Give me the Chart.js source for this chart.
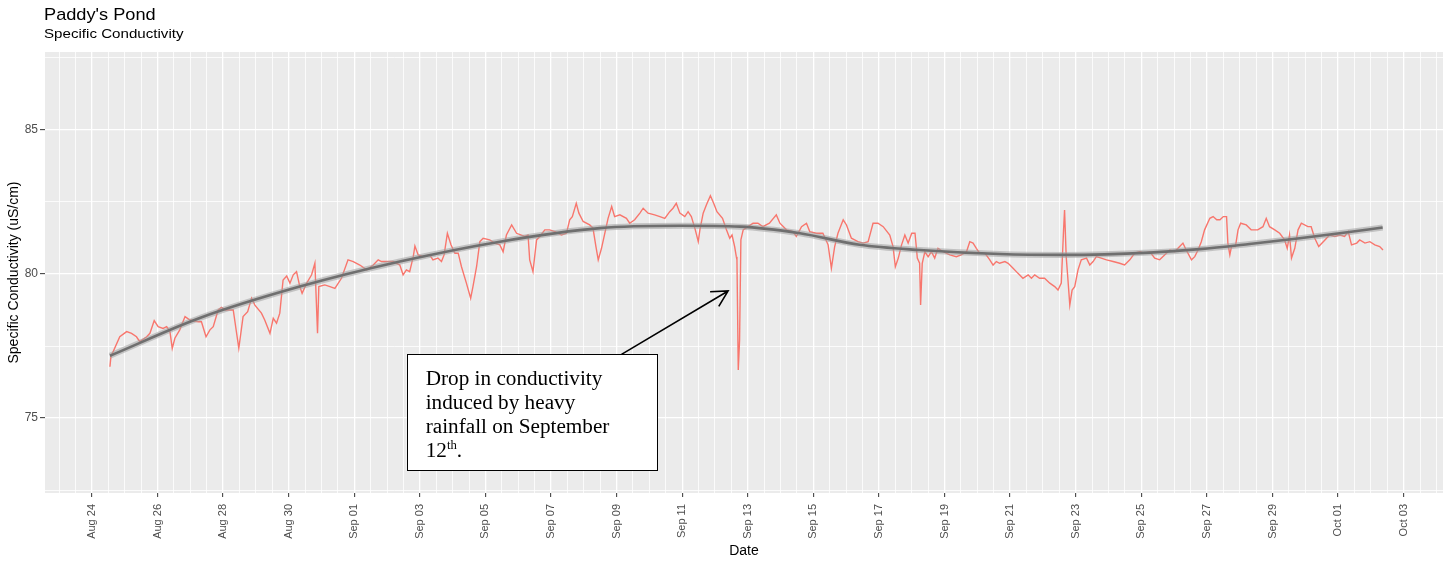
<!DOCTYPE html>
<html>
<head>
<meta charset="utf-8">
<title>Paddy's Pond</title>
<script src="https://cdn.jsdelivr.net/npm/chart.js@4.4.1/dist/chart.umd.min.js"></script>
<style>
  html, body { margin: 0; padding: 0; background: #fff; }
  #wrap { width: 1448px; height: 561px; }
</style>
</head>
<body>
<div id="wrap"><canvas id="chart" width="1448" height="561"></canvas></div>
<script>
// time is in days since Aug 24 00:00
const times = [
  0.55, 0.58, 0.85, 1.06, 1.21, 1.36, 1.46, 1.67, 1.77, 1.90, 2.02, 2.17, 2.28, 2.38, 2.45, 2.53, 2.68, 2.84, 2.99, 3.24,
  3.34, 3.48, 3.60, 3.70, 3.85, 3.95, 4.08, 4.31, 4.48, 4.61, 4.75, 4.87, 4.97, 5.17, 5.27, 5.43, 5.53, 5.63, 5.73, 5.83,
  5.94, 6.04, 6.14, 6.24, 6.34, 6.41, 6.55, 6.70, 6.80, 6.88, 6.92, 7.10, 7.26, 7.41, 7.61, 7.81, 7.97, 8.17, 8.38, 8.58,
  8.73, 8.83, 8.93, 9.19, 9.39, 9.49, 9.59, 9.69, 9.80, 9.85, 9.95, 10.10, 10.30, 10.40, 10.55, 10.66, 10.74, 10.84, 10.95, 11.07,
  11.17, 11.27, 11.42, 11.55, 11.62, 11.73, 11.83, 11.93, 12.13, 12.28, 12.44, 12.54, 12.64, 12.80, 12.95, 13.20, 13.30, 13.35, 13.45, 13.56,
  13.66, 13.81, 13.96, 14.12, 14.32, 14.47, 14.57, 14.65, 14.77, 14.85, 14.98, 15.18, 15.28, 15.37, 15.44, 15.54, 15.64, 15.74, 15.85, 15.94,
  16.10, 16.30, 16.40, 16.55, 16.71, 16.81, 16.96, 17.16, 17.32, 17.47, 17.62, 17.72, 17.82, 17.93, 18.08, 18.18, 18.28, 18.40, 18.49, 18.54,
  18.64, 18.74, 18.86, 18.96, 19.06, 19.23, 19.35, 19.45, 19.52, 19.60, 19.65, 19.67, 19.71, 19.75, 19.79, 19.86, 20.01, 20.16, 20.31, 20.46,
  20.66, 20.87, 20.98, 21.18, 21.38, 21.48, 21.64, 21.79, 21.89, 22.09, 22.29, 22.45, 22.55, 22.65, 22.75, 22.91, 23.01, 23.16, 23.36, 23.52,
  23.67, 23.82, 23.97, 24.13, 24.33, 24.43, 24.50, 24.59, 24.69, 24.79, 24.89, 25.00, 25.10, 25.17, 25.24, 25.27, 25.32, 25.40, 25.50, 25.60,
  25.70, 25.80, 25.96, 26.16, 26.36, 26.51, 26.67, 26.77, 26.87, 26.97, 27.07, 27.23, 27.38, 27.48, 27.58, 27.68, 27.84, 27.94, 28.09, 28.24,
  28.39, 28.55, 28.65, 28.75, 28.90, 29.05, 29.21, 29.36, 29.46, 29.56, 29.63, 29.66, 29.71, 29.76, 29.82, 29.89, 29.97, 30.07, 30.17, 30.33,
  30.43, 30.53, 30.63, 30.78, 30.94, 31.14, 31.34, 31.49, 31.65, 31.80, 31.95, 32.10, 32.26, 32.41, 32.56, 32.71, 32.87, 33.02, 33.17, 33.27,
  33.37, 33.53, 33.63, 33.73, 33.83, 33.93, 34.09, 34.19, 34.30, 34.40, 34.50, 34.60, 34.64, 34.70, 34.75, 34.87, 34.95, 35.03, 35.20, 35.35,
  35.55, 35.71, 35.81, 35.91, 36.07, 36.22, 36.37, 36.45, 36.52, 36.58, 36.68, 36.78, 36.88, 37.08, 37.18, 37.29, 37.41, 37.60, 37.74, 37.90,
  38.05, 38.20, 38.31, 38.41, 38.57, 38.66, 38.82, 38.97, 39.12, 39.27, 39.37
];
const conductivity = [
  76.78, 77.13, 77.82, 78.00, 77.94, 77.82, 77.65, 77.82, 77.94, 78.38, 78.17, 78.11, 78.17, 78.00, 77.42, 77.77, 78.06, 78.52, 78.40, 78.34,
  78.34, 77.82, 78.06, 78.17, 78.75, 78.84, 78.75, 78.75, 77.42, 78.52, 78.69, 79.16, 78.92, 78.64, 78.40, 77.94, 78.46, 78.29, 78.64, 79.79,
  79.93, 79.68, 79.97, 80.08, 79.56, 79.33, 79.68, 79.97, 80.37, 77.94, 79.56, 79.62, 79.56, 79.50, 79.85, 80.49, 80.43, 80.31, 80.14, 80.31,
  80.49, 80.43, 80.43, 80.43, 80.31, 79.97, 80.14, 80.08, 80.60, 80.97, 80.66, 80.60, 80.66, 80.49, 80.55, 80.43, 80.66, 81.41, 81.01, 80.72,
  80.72, 80.25, 79.68, 79.16, 79.56, 80.25, 81.12, 81.24, 81.18, 81.07, 81.01, 80.77, 81.35, 81.70, 81.41, 81.30, 81.35, 80.49, 80.08, 81.18,
  81.30, 81.53, 81.53, 81.47, 81.35, 81.41, 81.88, 81.99, 82.45, 82.11, 81.82, 81.70, 81.59, 80.95, 80.49, 80.89, 81.41, 81.93, 82.34, 81.99,
  82.05, 81.93, 81.76, 81.88, 82.11, 82.28, 82.11, 82.05, 81.99, 81.93, 82.16, 82.28, 82.45, 82.11, 81.99, 82.16, 81.99, 81.53, 81.12, 81.53,
  82.11, 82.40, 82.71, 82.45, 82.16, 81.93, 81.53, 81.24, 81.35, 80.95, 80.60, 80.49, 76.67, 77.70, 81.18, 81.53, 81.64, 81.76, 81.76, 81.64,
  81.76, 82.05, 81.76, 81.53, 81.47, 81.30, 81.64, 81.76, 81.47, 81.41, 81.41, 81.01, 80.20, 80.95, 81.41, 81.88, 81.70, 81.24, 81.12, 81.07,
  81.12, 81.76, 81.76, 81.64, 81.35, 80.95, 80.25, 80.55, 81.01, 81.35, 81.07, 81.41, 81.41, 80.55, 80.37, 78.92, 80.37, 80.77, 80.60, 80.77,
  80.55, 80.89, 80.77, 80.66, 80.60, 80.66, 80.77, 81.12, 81.07, 80.89, 80.72, 80.72, 80.49, 80.31, 80.43, 80.37, 80.43, 80.37, 80.20, 80.02,
  79.85, 79.97, 79.85, 79.97, 79.85, 79.85, 79.68, 79.56, 79.44, 79.68, 81.53, 82.22, 80.60, 79.85, 78.92, 79.44, 79.56, 80.14, 80.49, 80.55,
  80.31, 80.43, 80.60, 80.55, 80.49, 80.43, 80.37, 80.31, 80.49, 80.72, 80.77, 80.72, 80.77, 80.55, 80.49, 80.66, 80.83, 80.77, 80.95, 81.07,
  80.83, 80.49, 80.60, 80.83, 81.12, 81.53, 81.93, 81.99, 81.88, 81.88, 81.99, 81.99, 81.07, 80.66, 80.95, 80.95, 81.53, 81.76, 81.70, 81.53,
  81.53, 81.64, 81.93, 81.64, 81.53, 81.41, 81.18, 80.89, 81.35, 80.55, 80.89, 81.53, 81.76, 81.64, 81.64, 81.24, 80.95, 81.18, 81.35, 81.30,
  81.35, 81.30, 81.47, 81.01, 81.07, 81.18, 81.07, 81.12, 81.01, 80.95, 80.83
];

// smoothed trend
const smoothTimes = [0.55, 3.29, 6.34, 9.39, 12.44, 15.49, 17.93, 19.76, 21.59, 23.41, 25.24, 27.68, 29.66, 32.26, 33.78, 35.30, 36.83, 38.05, 39.36];
const smoothValues = [77.16, 78.47, 79.56, 80.43, 81.12, 81.59, 81.67, 81.64, 81.41, 81.01, 80.83, 80.69, 80.66, 80.74, 80.86, 81.04, 81.24, 81.41, 81.61];

const labelDays = [0, 2, 4, 6, 8, 10, 12, 14, 16, 18, 20, 22, 24, 26, 28, 30, 32, 34, 36, 38, 40];
const dateLabels = ['Aug 24', 'Aug 26', 'Aug 28', 'Aug 30', 'Sep 01', 'Sep 03', 'Sep 05', 'Sep 07', 'Sep 09', 'Sep 11', 'Sep 13',
  'Sep 15', 'Sep 17', 'Sep 19', 'Sep 21', 'Sep 23', 'Sep 25', 'Sep 27', 'Sep 29', 'Oct 01', 'Oct 03'];
const yLabels = [75, 80, 85];

const noteLines = ['Drop in conductivity', 'induced by heavy', 'rainfall on September'];
// note box and arrow, in data units (days, uS/cm)
const note = { left: 9.6, right: 17.23, top: 77.22, bottom: 73.19, tailX: 16.15, tailY: 77.21, tipX: 19.40, tipY: 79.41 };

function pts(xs, ys) {
  return xs.map((x, i) => ({ x: x, y: ys[i] }));
}

function isLabelled(v) {
  return labelDays.indexOf(v) !== -1;
}

// text drawn a little wider than the font, like the stretched original
function wideText(ctx, text, x, y, sx) {
  ctx.save();
  ctx.translate(x, y);
  ctx.scale(sx, 1);
  ctx.fillText(text, 0, 0);
  ctx.restore();
  return ctx.measureText(text).width * sx;
}

const decorations = {
  id: 'decorations',
  beforeDraw(chart) {
    const { ctx, chartArea: a } = chart;
    ctx.save();
    ctx.fillStyle = '#ffffff';
    ctx.fillRect(0, 0, chart.width, chart.height);
    ctx.fillStyle = '#EBEBEB';
    ctx.fillRect(a.left, a.top, a.right - a.left, a.bottom - a.top);
    ctx.restore();
  },
  afterDraw(chart) {
    const ctx = chart.ctx;
    const xs = chart.scales.x, ys = chart.scales.y;
    ctx.save();

    // titles
    ctx.fillStyle = '#000';
    ctx.textAlign = 'left';
    ctx.textBaseline = 'alphabetic';
    ctx.font = '17px "Liberation Sans", Arial, sans-serif';
    wideText(ctx, "Paddy's Pond", 44, 20, 1.07);
    ctx.font = '13.5px "Liberation Sans", Arial, sans-serif';
    wideText(ctx, 'Specific Conductivity', 44, 38, 1.12);

    // note box
    const bx = xs.getPixelForValue(note.left), bx2 = xs.getPixelForValue(note.right);
    const by = ys.getPixelForValue(note.top), by2 = ys.getPixelForValue(note.bottom);
    ctx.fillStyle = '#fff';
    ctx.fillRect(bx, by, bx2 - bx, by2 - by);
    ctx.strokeStyle = '#000';
    ctx.lineWidth = 1;
    ctx.strokeRect(Math.round(bx) + 0.5, Math.round(by) + 0.5, Math.round(bx2 - bx), Math.round(by2 - by));

    ctx.fillStyle = '#000';
    const serif = '"Liberation Serif", "Times New Roman", serif';
    ctx.font = '20px ' + serif;
    const tx = bx + 19;
    const sx = 1.06;
    noteLines.forEach((line, i) => wideText(ctx, line, tx, by + 31 + i * 24, sx));
    const ly = by + 31 + 3 * 24;
    let w = wideText(ctx, '12', tx, ly, sx);
    ctx.font = '12px ' + serif;
    w += wideText(ctx, 'th', tx + w, ly - 8, sx);
    ctx.font = '20px ' + serif;
    wideText(ctx, '.', tx + w, ly, sx);

    // arrow
    const x0 = xs.getPixelForValue(note.tailX), y0 = ys.getPixelForValue(note.tailY);
    const x1 = xs.getPixelForValue(note.tipX), y1 = ys.getPixelForValue(note.tipY);
    const ang = Math.atan2(y1 - y0, x1 - x0);
    ctx.strokeStyle = '#000';
    ctx.lineWidth = 1.6;
    ctx.beginPath();
    ctx.moveTo(x0, y0);
    ctx.lineTo(x1, y1);
    ctx.moveTo(x1 + 18 * Math.cos(ang + Math.PI - 0.49), y1 + 18 * Math.sin(ang + Math.PI - 0.49));
    ctx.lineTo(x1, y1);
    ctx.lineTo(x1 + 18 * Math.cos(ang + Math.PI + 0.49), y1 + 18 * Math.sin(ang + Math.PI + 0.49));
    ctx.stroke();
    ctx.restore();
  }
};

new Chart(document.getElementById('chart'), {
  type: 'line',
  data: {
    datasets: [
      {
        label: 'trend',
        data: pts(smoothTimes, smoothValues),
        borderColor: '#6f6f6f',
        borderWidth: 2.6,
        pointRadius: 0,
        cubicInterpolationMode: 'monotone',
        order: 0
      },
      {
        label: 'band',
        data: pts(smoothTimes, smoothValues),
        borderColor: 'rgba(160,160,160,0.55)',
        borderWidth: 6,
        pointRadius: 0,
        cubicInterpolationMode: 'monotone',
        order: 1
      },
      {
        label: 'Specific conductivity',
        data: pts(times, conductivity),
        borderColor: '#F8766D',
        borderWidth: 1.4,
        pointRadius: 0,
        tension: 0,
        order: 2
      }
    ]
  },
  options: {
    responsive: false,
    animation: false,
    devicePixelRatio: 1,
    layout: { padding: { left: 0, right: 5, top: 52, bottom: 0 } },
    plugins: {
      legend: { display: false },
      tooltip: { enabled: false }
    },
    scales: {
      x: {
        type: 'linear',
        min: -1.43,
        max: 41.2,
        afterBuildTicks: (scale) => {
          const t = [];
          for (let k = -2; k <= 82; k++) t.push({ value: k / 2 });
          scale.ticks = t;
        },
        afterFit: (scale) => {
          scale.height = 68;
          scale.paddingLeft = 0;
          scale.paddingRight = 0;
        },
        border: { display: false },
        grid: {
          color: '#ffffff',
          lineWidth: (c) => (c.tick && isLabelled(c.tick.value) ? 1.3 : 0.8),
          tickLength: 4,
          tickWidth: 1,
          tickColor: (c) => (c.tick && isLabelled(c.tick.value) ? '#333333' : 'rgba(0,0,0,0)')
        },
        ticks: {
          autoSkip: false,
          maxRotation: 90,
          minRotation: 90,
          padding: 7,
          color: '#4d4d4d',
          font: { family: '"Liberation Sans", Arial, sans-serif', size: 11 },
          callback: (v) => {
            const i = labelDays.indexOf(v);
            return i === -1 ? '' : dateLabels[i];
          }
        },
        title: {
          display: true,
          text: 'Date',
          color: '#000',
          font: { family: '"Liberation Sans", Arial, sans-serif', size: 14 },
          padding: { top: 0, bottom: 1 }
        }
      },
      y: {
        type: 'linear',
        min: 72.4,
        max: 87.7,
        afterBuildTicks: (scale) => {
          const t = [];
          for (let v = 72.5; v <= 87.5; v += 2.5) t.push({ value: v });
          scale.ticks = t;
        },
        afterFit: (scale) => { scale.width = 45; },
        border: { display: false },
        grid: {
          color: '#ffffff',
          lineWidth: (c) => (c.tick && yLabels.indexOf(c.tick.value) !== -1 ? 1.3 : 0.8),
          tickLength: 5,
          tickWidth: 1,
          tickColor: (c) => (c.tick && yLabels.indexOf(c.tick.value) !== -1 ? '#333333' : 'rgba(0,0,0,0)')
        },
        ticks: {
          padding: 2,
          color: '#4d4d4d',
          font: { family: '"Liberation Sans", Arial, sans-serif', size: 12 },
          callback: (v) => (yLabels.indexOf(v) !== -1 ? String(v) : '')
        },
        title: {
          display: true,
          text: 'Specific Conductivity (uS/cm)',
          color: '#000',
          font: { family: '"Liberation Sans", Arial, sans-serif', size: 14 },
          padding: { top: 5.6, bottom: 0 }
        }
      }
    }
  },
  plugins: [decorations]
});
</script>
</body>
</html>
